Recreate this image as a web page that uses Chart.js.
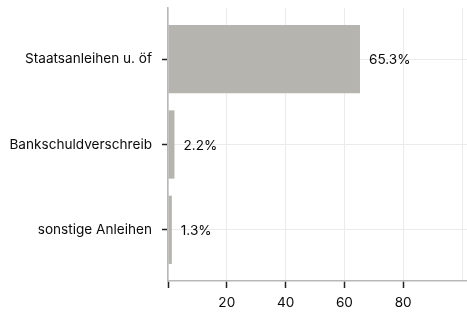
<!DOCTYPE html>
<html>
<head>
<meta charset="utf-8">
<script src="https://cdn.jsdelivr.net/npm/chart.js@4/dist/chart.umd.min.js"></script>
<style>
  body { margin: 0; background: #fff; }
  #wrap { width: 467px; height: 313px; }
</style>
</head>
<body>
<div id="wrap"><canvas id="barGraph" width="467" height="313"></canvas></div>
<script>
// Categories and shares (percent), top to bottom
var categories = ['Staatsanleihen u. öf', 'Bankschuldverschreib', 'sonstige Anleihen'];
var shares = [65.3, 2.2, 1.3];

// x axis ticks, only some of them get a label
var xTicks = [0, 20, 40, 60, 80, 100];
var xTickLabels = ['', '20', '40', '60', '80', ''];

var fontFamily = 'Inter, "Noto Sans", sans-serif';
var fontSize = 13.6;
var textColor = '#0a0a0a';
var gridColor = '#ebebeb';
var axisColor = '#b8b8b8';

// bars sit at positions 1..n on a linear axis (discrete expansion of 0.6)
var points = shares.map(function (v, i) {
    return { x: v, y: i + 1 };
});

// Draws the "65.3%" style labels to the right of each bar
var valueLabels = {
    id: 'valueLabels',
    afterDatasetsDraw: function (chart) {
        var ctx = chart.ctx;
        var meta = chart.getDatasetMeta(0);
        ctx.save();
        ctx.font = fontSize + 'px ' + fontFamily;
        ctx.fillStyle = textColor;
        ctx.textAlign = 'left';
        ctx.textBaseline = 'middle';
        meta.data.forEach(function (bar, i) {
            ctx.fillText(shares[i].toFixed(1) + '%', bar.x + 9, bar.y + 1);
        });
        ctx.restore();
    }
};

var canvas = document.getElementById('barGraph');

var barGraph = new Chart(canvas, {
    type: 'bar',
    data: {
        datasets: [{
            data: points,
            backgroundColor: '#b5b4af',
            borderWidth: 0,
            categoryPercentage: 0.8,
            barPercentage: 1
        }]
    },
    options: {
        indexAxis: 'y',
        responsive: false,
        maintainAspectRatio: false,
        animation: false,
        layout: { padding: { top: 8, right: 0, left: 0, bottom: 0 } },
        scales: {
            x: {
                type: 'linear',
                min: 0,
                max: 101.7,
                afterBuildTicks: function (scale) {
                    scale.ticks = xTicks.map(function (v) { return { value: v }; });
                },
                afterFit: function (scale) {
                    scale.height = 32;
                    scale.paddingLeft = 0;
                    scale.paddingRight = 0;
                },
                border: { display: true, color: axisColor, width: 1.5 },
                grid: {
                    color: gridColor,
                    lineWidth: 1,
                    tickLength: 7,
                    tickWidth: 1.5,
                    tickColor: function (c) {
                        return c.tick && c.tick.value === 100 ? 'rgba(0,0,0,0)' : '#222';
                    }
                },
                ticks: {
                    padding: 7,
                    color: textColor,
                    font: { family: fontFamily, size: fontSize },
                    maxRotation: 0,
                    autoSkip: false,
                    callback: function (value, index) {
                        return xTickLabels[index];
                    }
                }
            },
            y: {
                type: 'linear',
                reverse: true,
                offset: false,
                min: 0.4,
                max: categories.length + 0.6,
                afterBuildTicks: function (scale) {
                    scale.ticks = categories.map(function (c, i) { return { value: i + 1 }; });
                },
                afterFit: function (scale) {
                    scale.width = 168;
                    scale.paddingTop = 0;
                    scale.paddingBottom = 0;
                },
                border: { display: true, color: axisColor, width: 1.5 },
                grid: {
                    offset: false,
                    color: gridColor,
                    lineWidth: 1,
                    tickLength: 6,
                    tickWidth: 1.5,
                    tickColor: '#222'
                },
                ticks: {
                    padding: 10,
                    color: textColor,
                    font: { family: fontFamily, size: fontSize },
                    autoSkip: false,
                    callback: function (value) {
                        return categories[value - 1];
                    }
                }
            }
        },
        plugins: {
            legend: { display: false },
            tooltip: { enabled: false }
        }
    },
    plugins: [valueLabels]
});
</script>
</body>
</html>
